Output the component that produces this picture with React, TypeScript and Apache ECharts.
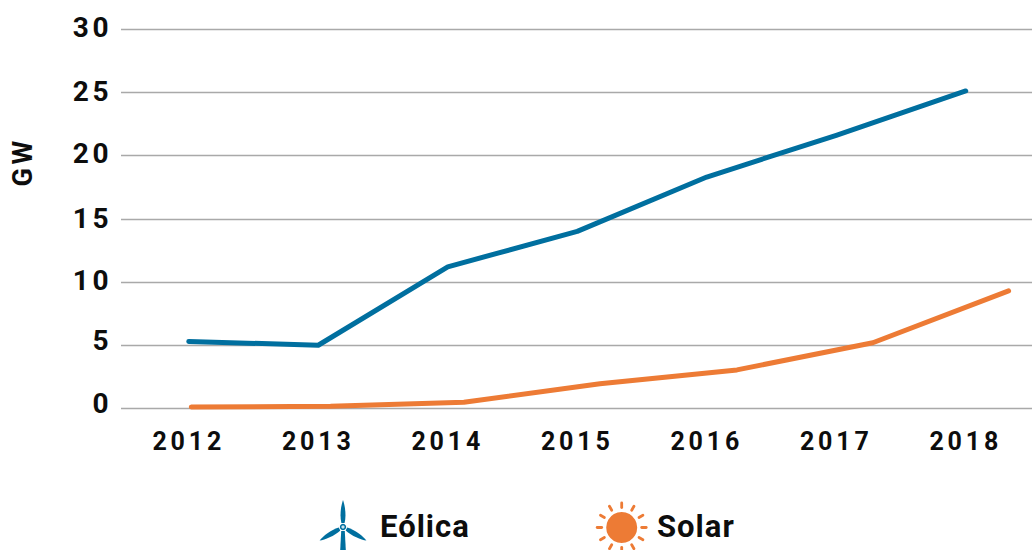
import React, { useEffect, useRef } from "react";
import * as echarts from "echarts";

const years = ["2012", "2013", "2014", "2015", "2016", "2017", "2018"];
const eolica = [5.3, 5.0, 11.2, 14.0, 18.3, 21.6, 25.1];
const solarX = [2012.04, 2013.11, 2014.135, 2015.18, 2016.233, 2017.277, 2018.32];
const solar = [0.12, 0.18, 0.5, 1.95, 3.05, 5.2, 9.3];
const yTicks = [0, 5, 10, 15, 20, 25, 30];
const yLabelLift: Record<string, number> = { "0": 10, "5": 9, "10": 3, "15": 0, "20": 4, "25": 2, "30": 3 };

const BLUE = "#006f9f";
const ORANGE = "#ed7b35";
const FONT = "Roboto";

let registered = false;
function registerShapes() {
  if (registered) return;
  registered = true;
  echarts.graphic.registerShape(
    "bladeShape",
    echarts.graphic.extendPath("M-1.6,-4 C-3.6,-12 -1.8,-22 0,-27 C1.8,-22 3.6,-12 1.6,-4 Z", {})
  );
}

function turbine(cx: number, cy: number) {
  const blades = [0, (2 * Math.PI) / 3, (4 * Math.PI) / 3].map((r) => ({
    type: "bladeShape",
    x: cx,
    y: cy,
    rotation: r,
    style: { fill: BLUE },
  }));
  return [
    ...blades,
    { type: "polygon", shape: { points: [[cx - 1.8, cy + 4], [cx + 1.8, cy + 4], [cx + 2.8, 550], [cx - 2.8, 550]] }, style: { fill: BLUE } },
    { type: "circle", shape: { cx, cy, r: 2.4 }, style: { fill: "#cfe3ec", stroke: BLUE, lineWidth: 1.6 } },
  ];
}

function sun(cx: number, cy: number) {
  const rays = Array.from({ length: 12 }, (_, i) => {
    const a = (i * Math.PI) / 6;
    return {
      type: "line",
      shape: {
        x1: cx + 20 * Math.sin(a),
        y1: cy - 20 * Math.cos(a),
        x2: cx + 24.5 * Math.sin(a),
        y2: cy - 24.5 * Math.cos(a),
      },
      style: { stroke: ORANGE, lineWidth: 2.8, lineCap: "round" },
    };
  });
  return [...rays, { type: "circle", shape: { cx, cy, r: 15.5 }, style: { fill: ORANGE } }];
}

export default function App() {
  const ref = useRef<HTMLDivElement>(null);
  useEffect(() => {
    document.body.style.margin = "0";
    registerShapes();
    const chart = echarts.init(ref.current!, null, { renderer: "svg" });
    const rich: Record<string, any> = {};
    yTicks.forEach((t) => {
      rich["t" + t] = {
        fontFamily: FONT,
        fontWeight: 700,
        fontSize: 28,
        color: "#0d0d0d",
        padding: [0, 0, yLabelLift[String(t)], 0],
      };
    });
    chart.setOption({
      animation: false,
      grid: [
        { left: 121, right: 0, top: 29, height: 379.5 },
        { left: 124, width: 906.5, top: 29, height: 379.5 },
      ],
      xAxis: [
        { type: "value", gridIndex: 0, min: 2011.5, max: 2018.5, show: false },
        {
          type: "category",
          gridIndex: 1,
          data: years,
          axisLine: { show: false },
          axisTick: { show: false },
          axisLabel: { margin: 20, fontFamily: FONT, fontWeight: 700, fontSize: 25, color: "#0d0d0d" },
        },
      ],
      yAxis: [
        {
          type: "value",
          gridIndex: 0,
          min: 0,
          max: 30,
          interval: 5,
          axisLine: { show: false },
          axisTick: { show: false },
          axisLabel: {
            margin: 9,
            formatter: (v: number) => `{t${v}|${v}}`,
            rich,
          },
          splitLine: { lineStyle: { color: "#a9a9a9", width: 1.4 } },
        },
        { type: "value", gridIndex: 1, min: 0, max: 30, show: false },
      ],
      series: [
        {
          name: "Eólica",
          type: "line",
          xAxisIndex: 1,
          yAxisIndex: 1,
          data: eolica,
          symbol: "none",
          lineStyle: { color: BLUE, width: 5, cap: "round", join: "round" },
        },
        {
          name: "Solar",
          type: "line",
          xAxisIndex: 0,
          yAxisIndex: 0,
          data: solarX.map((x, i) => [x, solar[i]]),
          symbol: "none",
          lineStyle: { color: ORANGE, width: 5, cap: "round", join: "round" },
        },
      ],
      graphic: [
        {
          type: "text",
          x: 23,
          y: 162,
          rotation: Math.PI / 2,
          style: { text: "GW", font: `700 27px ${FONT}`, fill: "#0d0d0d", align: "center", verticalAlign: "middle" },
        },
        ...turbine(343, 527),
        { type: "text", x: 380, y: 526, style: { text: "Eólica", font: `700 31px ${FONT}`, fill: "#0d0d0d", verticalAlign: "middle" } },
        ...sun(621.7, 527.5),
        { type: "text", x: 657, y: 526, style: { text: "Solar", font: `700 31px ${FONT}`, fill: "#0d0d0d", verticalAlign: "middle" } },
      ],
    });
    const host = ref.current!;
    host.querySelectorAll("text").forEach((t) => {
      const s = t.textContent || "";
      if (s === "Eólica" || s === "Solar") t.style.letterSpacing = "1px";
      else if (s === "GW") t.style.letterSpacing = "3.6px";
      else t.style.letterSpacing = s.length === 4 ? "3.8px" : "3.5px";
    });
    return () => chart.dispose();
  }, []);
  return <div ref={ref} style={{ width: 1032, height: 550 }} />;
}
